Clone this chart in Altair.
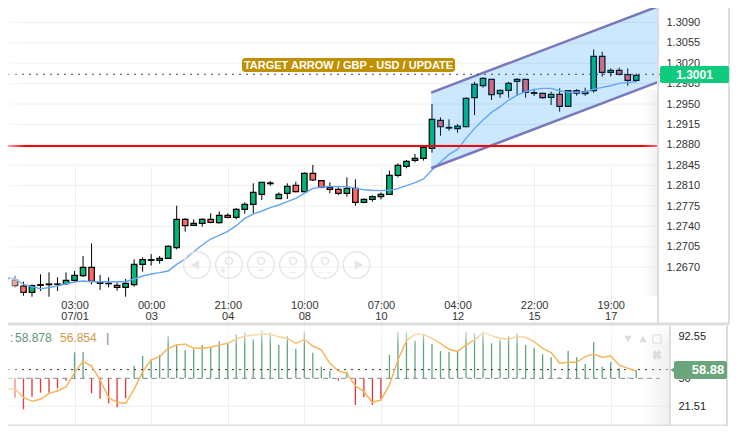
import altair as alt
import pandas as pd

FONT = "Liberation Sans"

# candle index runs -2 .. 72
first_index = -2
opens = [1.26515,1.2648,1.26377,1.26268,1.26389,1.26400,1.26406,1.26417,1.26474,1.26554,1.26697,1.26446,1.26417,1.26389,1.26354,1.264,1.26749,1.26818,1.26818,1.26852,1.27035,1.27521,1.27418,1.27452,1.27521,1.27464,1.2759,1.27555,1.27693,1.27778,1.2795,1.28133,1.27876,1.27967,1.28104,1.27996,1.2831,1.28185,1.2807,1.28036,1.27967,1.28053,1.27813,1.27864,1.2791,1.2795,1.28276,1.28431,1.28533,1.28568,1.28739,1.29219,1.29087,1.29076,1.2911,1.29608,1.29814,1.29923,1.29677,1.29734,1.29888,1.29923,1.29682,1.29682,1.29614,1.29665,1.29459,1.29728,1.29677,1.29728,1.30317,1.30043,1.30077,1.30003,1.29906]
highs = [1.26697,1.26554,1.26451,1.26406,1.26577,1.26612,1.26526,1.26612,1.26634,1.26892,1.27109,1.26566,1.26526,1.2644,1.26497,1.26835,1.26869,1.26926,1.26892,1.27081,1.27755,1.27544,1.27521,1.27538,1.27624,1.27658,1.27624,1.27716,1.27813,1.28139,1.28156,1.28179,1.27984,1.28139,1.28167,1.28327,1.28453,1.28196,1.28156,1.2807,1.28242,1.28208,1.27881,1.27933,1.27984,1.28356,1.28482,1.28539,1.28642,1.2878,1.29499,1.2927,1.29236,1.29156,1.29614,1.29882,1.29957,1.29923,1.29746,1.29882,1.2994,1.29923,1.29751,1.29694,1.29711,1.29768,1.2974,1.29757,1.2978,1.30437,1.30397,1.30111,1.30123,1.30111,1.3002]
lows = [1.26366,1.26354,1.26211,1.26194,1.26291,1.26194,1.26291,1.26394,1.26451,1.26531,1.26406,1.26308,1.26354,1.26297,1.26194,1.26366,1.26623,1.26726,1.2676,1.26841,1.27006,1.27309,1.27407,1.27395,1.27452,1.27447,1.27538,1.27521,1.27618,1.27624,1.27853,1.28099,1.2787,1.2787,1.27984,1.27984,1.28179,1.28053,1.27967,1.27939,1.2791,1.27755,1.27796,1.27824,1.27864,1.2795,1.28242,1.28396,1.28499,1.28528,1.28665,1.28956,1.29042,1.29007,1.29099,1.2931,1.2978,1.29568,1.29608,1.29608,1.29637,1.29608,1.29637,1.29591,1.29482,1.29368,1.29454,1.29642,1.29642,1.29694,1.29969,1.29974,1.29991,1.29814,1.29882]
closes = [1.26505,1.26383,1.26268,1.26383,1.264,1.26412,1.26412,1.26474,1.2656,1.26697,1.26457,1.26423,1.26423,1.26354,1.26423,1.26749,1.26829,1.26829,1.26852,1.27058,1.27521,1.27412,1.27452,1.27521,1.2747,1.2759,1.27555,1.27693,1.27778,1.27984,1.28156,1.28145,1.2795,1.28087,1.27996,1.2831,1.28196,1.2807,1.28036,1.27967,1.28053,1.27813,1.27864,1.2791,1.2795,1.28276,1.28448,1.28516,1.28568,1.28757,1.29236,1.2911,1.29099,1.29122,1.29596,1.29837,1.2994,1.2966,1.29734,1.29854,1.29923,1.297,1.29694,1.29608,1.29665,1.29459,1.29728,1.29688,1.29711,1.30317,1.30043,1.30077,1.30009,1.29906,1.29991]
ma = [1.26537,1.26497,1.26406,1.26366,1.26331,1.26349,1.26377,1.26417,1.26446,1.26463,1.26451,1.26451,1.26451,1.26451,1.26451,1.26497,1.26549,1.26583,1.26606,1.26634,1.26749,1.26841,1.26966,1.27081,1.27184,1.27247,1.27315,1.27412,1.27538,1.27612,1.27664,1.27721,1.27767,1.27824,1.27881,1.27967,1.28053,1.28076,1.28082,1.28082,1.28082,1.28053,1.2803,1.28019,1.28013,1.28019,1.28047,1.28099,1.2815,1.28213,1.28367,1.28506,1.28636,1.28721,1.2891,1.29082,1.29225,1.29356,1.29454,1.29568,1.29654,1.29711,1.29751,1.29768,1.29768,1.29728,1.29699,1.29699,1.29711,1.29751,1.29785,1.29814,1.29854,1.29871,1.29882]
rsi = [43.88,30.28,18.38,31.3,35.38,35.38,39.8,47.62,76.52,76.52,34.7,29.26,24.5,20.42,29.6,62.58,72.78,69.38,73.8,93.18,84.68,78.9,79.58,84,81.62,88.08,85.7,95.22,96.92,89.78,99.3,96.92,84,93.52,79.92,98.28,76.18,61.9,57.82,47.62,56.8,22.8,30.62,22.8,28.92,73.8,97.6,97.6,88.42,95.22,85.02,77.88,77.2,77.2,97.6,95.9,97.6,85.7,89.1,93.52,96.58,84,80.6,74.48,71.42,51.02,77.88,71.42,64.62,87.4,61.9,66.32,60.2,51.02,58.5]
signal = [38.78,39.12,30.62,26.54,28.58,34.7,37.08,41.16,55.78,67.34,62.58,48.3,30.28,25.52,24.5,38.78,56.8,68.7,72.1,80.6,84,85.02,80.6,80.6,81.62,84,85.7,90.12,93.18,94.2,95.22,94.88,92.5,90.8,85.7,89.78,82.98,78.9,65.3,57.48,55.1,42.18,36.4,25.52,27.9,43.2,68.7,88.42,94.88,94.88,90.8,85.7,79.58,77.54,84,89.1,96.92,93.52,90.8,89.78,92.5,91.82,87.4,80.6,76.18,65.3,66.32,66.32,72.1,74.82,71.42,72.78,63.6,60.2,57.48]

price_ticks = [1.3125,1.3090,1.3055,1.3020,1.2985,1.2950,1.2915,1.2880,1.2845,1.2810,1.2775,1.2740,1.2705,1.2670]
time_ticks = [6,15,24,33,42,51,60,69]
time_labels = ["03:00|07/01","00:00|03","21:00|04","10:00|08","07:00|10","04:00|12","22:00|15","19:00|17"]
rsi_ticks = [92.55,50,21.51]

support = 1.2878
last_price = 1.3001
last_rsi = 58.88
channel_x = [47.9,74.68]
channel_top = [1.29694,1.31181]
channel_bottom = [1.28397,1.29883]

idx = list(range(first_index, first_index + len(opens)))
candles = pd.DataFrame(dict(i=idx,o=opens,h=highs,l=lows,c=closes,ma=ma,rsi=rsi,sig=signal))
candles["fill"] = ["#00b875" if c >= o else "#ff6666" for o, c in zip(opens, closes)]
candles["bar"] = ["#5fa37c" if v >= 50 else "#e53535" for v in rsi]
candles["base"] = 50
ticks = pd.DataFrame(dict(v=price_ticks))
chan = pd.DataFrame(dict(i=channel_x,t=channel_top,b=channel_bottom))

x_scale = alt.Scale(domain=[-1.82, 83.84], nice=False, zero=False, padding=0)
main_scale = alt.Scale(domain=[1.2670, 1.3125], range=[259.2, -6], nice=False, zero=False)
rsi_scale = alt.Scale(domain=[0, 100], range=[419.35, 321.3], nice=False, zero=False)

label_map = "{" + ",".join(f"'{t}':'{l}'" for t, l in zip(time_ticks, time_labels)) + "}"
x_axis = alt.Axis(values=time_ticks, title=None, orient="bottom", offset=-131, domain=False, ticks=False,
                  grid=True, gridColor="#eeeeee", gridWidth=1,
                  labelFont=FONT, labelFontSize=11, labelColor="#333333", labelPadding=4, labelOverlap=False,
                  labelLineHeight=11,
                  labelExpr=f"split({label_map}[datum.value], '|')")
y_axis = alt.Axis(values=price_ticks, title=None, orient="right", offset=-78, domain=False, ticks=False, grid=False,
                  labelFont=FONT, labelFontSize=11, labelColor="#333333", labelPadding=7, format=".4f", labelOverlap=False)
r_axis = alt.Axis(values=rsi_ticks, title=None, orient="right", offset=-67, domain=False, ticks=False, grid=False,
                  labelFont=FONT, labelFontSize=11, labelColor="#222222", labelPadding=8, format=".2~f", labelOverlap=False)

def X(f="i", **k): return alt.X(f"{f}:Q", scale=x_scale, axis=x_axis, **k)
def Y(f, **k): return alt.Y(f"{f}:Q", scale=main_scale, axis=y_axis, **k)
def R(f, **k): return alt.Y(f"{f}:Q", scale=rsi_scale, axis=r_axis, **k)

grid = alt.Chart(ticks).mark_rule(color="#eeeeee", strokeWidth=1).encode(
    x=alt.value(0), x2=alt.value(651), y=Y("v"))
wicks = alt.Chart(candles).mark_rule(color="#000000", strokeWidth=1).encode(x=X(), y=Y("l"), y2=alt.Y2("h"))
bodies = alt.Chart(candles).mark_bar(size=5.5, stroke="#000000", strokeWidth=1.2).encode(
    x=X(), y=Y("o"), y2=alt.Y2("c"), fill=alt.Fill("fill:N", scale=None))
channel = alt.Chart(chan).mark_area(color="#008cff", opacity=0.2).encode(x=X(), y=Y("t"), y2=alt.Y2("b"))
ma_line = alt.Chart(candles).mark_line(color="#64a5f5", strokeWidth=1.4).encode(x=X(), y=Y("ma"))
chan_top = alt.Chart(chan).mark_line(color="#7a78bd", strokeWidth=2.5).encode(x=X(), y=Y("t"))
chan_bot = alt.Chart(chan).mark_line(color="#7a78bd", strokeWidth=2.5).encode(x=X(), y=Y("b"))
red_line = alt.Chart(pd.DataFrame(dict(v=[support]))).mark_rule(color="#ff0000", strokeWidth=2).encode(
    x=alt.value(0), x2=alt.value(651), y=Y("v"))
last_line = alt.Chart(pd.DataFrame(dict(v=[last_price]))).mark_rule(color="#444444", strokeWidth=1, strokeDash=[2, 5]).encode(
    x=alt.value(0), x2=alt.value(653), y=Y("v"))
main = alt.layer(grid, wicks, bodies, channel, ma_line, chan_top, chan_bot, red_line, last_line)

rsi_bars = alt.Chart(candles).mark_rule(strokeWidth=1.3).encode(
    x=X(), y=R("rsi"), y2=alt.Y2("base"), color=alt.Color("bar:N", scale=None))
rsi_line = alt.Chart(candles).mark_line(color="#f5b65c", strokeWidth=1.5).encode(x=X(), y=R("sig"))
rsi_grid = alt.Chart(pd.DataFrame(dict(v=[21.51]))).mark_rule(color="#eeeeee", strokeWidth=1).encode(
    x=alt.value(0), x2=alt.value(662), y=R("v"))
rsi_base = alt.Chart(pd.DataFrame(dict(v=[50]))).mark_rule(color="#888888", strokeWidth=1, strokeDash=[5, 4]).encode(
    x=alt.value(0), x2=alt.value(652), y=R("v"))
rsi_last = alt.Chart(pd.DataFrame(dict(v=[last_rsi]))).mark_rule(color="#333333", strokeWidth=1, strokeDash=[2, 5]).encode(
    x=alt.value(0), x2=alt.value(660), y=R("v"))
rsi_panel = alt.layer(rsi_grid, rsi_bars, rsi_base, rsi_last, rsi_line)

# chrome, placed in plot pixels
def rect(x, x2, y, y2, **k):
    return alt.Chart().mark_rect(**k).encode(x=alt.value(x), x2=alt.value(x2), y=alt.value(y), y2=alt.value(y2))
def line(x, x2, y, y2, color="#dddddd", w=2):
    return alt.Chart().mark_rule(color=color, strokeWidth=w).encode(x=alt.value(x), x2=alt.value(x2), y=alt.value(y), y2=alt.value(y2))
def text(t, x, y, **k):
    return alt.Chart().mark_text(font=FONT, **k).encode(x=alt.value(x), y=alt.value(y), text=alt.value(t))
def pt(x, y, **k):
    return alt.Chart().mark_point(**k).encode(x=alt.value(x), y=alt.value(y))

def grad(x1, x2, y1, y2, a, b):
    return alt.Gradient(gradient="linear", x1=x1, x2=x2, y1=y1, y2=y2,
                        stops=[alt.GradientStop(color=a, offset=0), alt.GradientStop(color=b, offset=1)])
WHITE0 = "rgba(255,255,255,0)"
chrome = [
    rect(634, 650, 82, 288, color=grad(0, 1, 0, 0, "rgba(225,225,225,0)", "rgba(225,225,225,0.5)")),
    rect(635, 661, 318, 418, color=grad(0, 1, 0, 0, "rgba(225,225,225,0)", "rgba(225,225,225,0.5)")),
    rect(-8, 17, 0, 316, color=grad(0, 1, 0, 0, "rgba(255,255,255,0.95)", WHITE0)),
    rect(-8, 17, 318, 418, color=grad(0, 1, 0, 0, "rgba(255,255,255,0.95)", WHITE0)),
    rect(0, 662, 318, 338, color=grad(0, 0, 0, 1, "rgba(255,255,255,0.9)", WHITE0)),
    line(0, 721, 316, 316, w=3),
    line(0, 719, 418, 418, w=3),
    line(650, 650, 0, 316),
    line(721, 721, 0, 316),
    line(662, 662, 318, 418),
    line(719, 719, 318, 418),
    rect(234, 447, 50, 64, color="#c09000", cornerRadius=3),
    text("TARGET ARROW / GBP - USD / UPDATE", 340.5, 57.5, color="#ffffff", fontWeight="bold", fontSize=11, baseline="middle"),
    rect(652, 721, 58, 75, color="#0ecb7d", cornerRadius=2),
    text("1.3001", 686.5, 67, color="#ffffff", fontWeight="bold", fontSize=12, baseline="middle"),
    pt(665, 362, shape="triangle-left", filled=True, color="#6aa57c", size=40, opacity=1),
    rect(666, 719, 353, 371, color="#6aa57c", cornerRadius=2),
    text("58.88", 700, 362, color="#ffffff", fontWeight="bold", fontSize=13, baseline="middle"),
    text(":", 2, 330, color="#5f9477", fontSize=12, baseline="middle", align="left"),
    text("58.878", 7, 330, color="#5f9477", fontSize=12, baseline="middle", align="left"),
    text("56.854", 52, 330, color="#d09a4a", fontSize=12, baseline="middle", align="left"),
    text("|", 98, 330, color="#888888", fontSize=13, baseline="middle", align="left"),
    pt(620, 331, shape="triangle-down", filled=True, color="#dddddd", size=55, opacity=1),
    pt(635, 331, shape="triangle-up", filled=True, color="#dddddd", size=55, opacity=1),
    pt(649, 331, shape="square", filled=False, color="#dddddd", size=70, opacity=1, strokeWidth=1),
    pt(649, 347, shape="cross", filled=True, color="#dddddd", size=90, angle=45, opacity=1),
]

btn = "#e6e6e6"
for cx in [189, 221, 253, 285, 317, 348.5]:
    chrome.append(pt(cx, 257, shape="circle", filled=False, color=btn, size=707, strokeWidth=1.4, opacity=1))
chrome += [
    pt(187, 257, shape="triangle-left", filled=True, color=btn, size=90, opacity=1),
    pt(351, 257, shape="triangle-right", filled=True, color=btn, size=90, opacity=1),
]
for cx in [221, 253, 285, 317]:
    chrome.append(pt(cx, 253, shape="circle", filled=False, color=btn, size=45, strokeWidth=1.4, opacity=1))
chrome += [
    text("+", 215, 263, color=btn, fontSize=11, fontWeight="bold", baseline="middle"),
    text("−", 253, 263, color=btn, fontSize=11, fontWeight="bold", baseline="middle"),
    text("↔", 285, 263, color=btn, fontSize=11, baseline="middle"),
    text("→←", 317, 263, color=btn, fontSize=9, baseline="middle"),
]

chart = alt.layer(main, rsi_panel, *chrome).resolve_scale(y="independent", x="shared").properties(
    width=729, height=418, padding=0,
    autosize=alt.AutoSizeParams(type="none"),
).configure_view(stroke=None)

chart.save("out.html", embed_options={"renderer": "svg", "actions": False})
